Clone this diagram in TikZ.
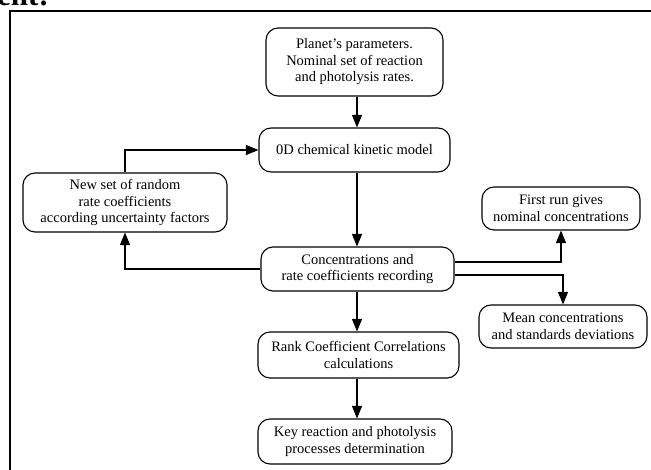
\documentclass[tikz,border=0pt]{standalone}
\usepackage{fontspec}
\setmainfont{Liberation Serif}
\usetikzlibrary{arrows.meta,calc}
\begin{document}
\begin{tikzpicture}[x=1pt,y=-1pt,
  box/.style={draw,line width=1.1pt,rounded corners=12pt,align=center,inner sep=0pt,
    font=\fontsize{14.5}{16.5}\selectfont},
  arr/.style={line width=1.1pt,-{Triangle[length=12.5pt,width=10pt]}},
  frame/.style={line width=1.8pt}]
\useasboundingbox (0,0) rectangle (651,470);
\node[anchor=base west,inner sep=0pt,font=\bfseries\fontsize{31}{31}\selectfont] (hdr) at (-3,6) {ent:};
\coordinate (fbl) at (10,472);
\coordinate (ftl) at (10,11);
\coordinate (ftr) at (653,11);
\draw[frame] (fbl) -- (ftl) -- (ftr);
\coordinate (vx) at (357,0);
\node[box,minimum width=177pt,minimum height=68pt] (A) at (354.5,62) {Planet's parameters.\\Nominal set of reaction\\and photolysis rates.};
\node[box,minimum width=191pt,minimum height=44pt] (B) at (354.5,150) {0D chemical kinetic model};
\node[box,minimum width=204pt,minimum height=59pt] (C) at (125,202.5) {New set of random\\rate coefficients\\according uncertainty factors};
\node[box,minimum width=193pt,minimum height=44pt] (D) at (357.5,269) {Concentrations and\\rate coefficients recording};
\node[box,minimum width=158pt,minimum height=43pt] (E) at (561,208.5) {First run gives\\nominal concentrations};
\node[box,minimum width=168pt,minimum height=43pt] (F) at (563,326.5) {Mean concentrations\\and standards deviations};
\node[box,minimum width=201pt,minimum height=46pt] (G) at (358.5,355) {Rank Coefficient Correlations\\calculations};
\node[box,minimum width=194pt,minimum height=45pt] (H) at (355,441.5) {Key reaction and photolysis\\processes determination};
\draw[arr] (A.south -| vx) -- (B.north -| vx);
\draw[arr] (B.south -| vx) -- (D.north -| vx);
\draw[arr] (D.south -| vx) -- (G.north -| vx);
\draw[arr] (G.south -| vx) -- (H.north -| vx);
\draw[arr] (C.north) |- (B.west);
\draw[arr] (D.west) -| (C.south);
\draw[arr] ($(D.east)+(0,-7)$) -| (E.south);
\draw[arr] ($(D.east)+(0,6)$) -| (F.north);
\end{tikzpicture}
\end{document}
